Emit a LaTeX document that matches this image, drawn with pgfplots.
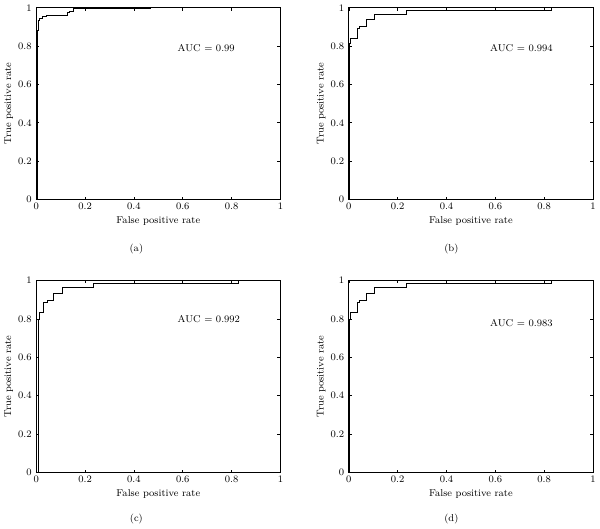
\documentclass[border=0pt]{standalone}
\usepackage{pgfplots}
\pgfplotsset{compat=1.18}

\pgfplotsset{
  rocstyle/.style={
    scale only axis,
    width=184.5pt, height=145pt,
    xmin=0, xmax=1, ymin=0, ymax=1,
    xtick={0,0.2,0.4,0.6,0.8,1},
    ytick={0,0.2,0.4,0.6,0.8,1},
    tick align=inside,
    major tick length=2.2pt,
    axis line style={line width=0.6pt},
    every tick/.style={line width=0.5pt, black},
    /pgf/number format/assume math mode=true,
    /pgf/number format/fixed,
    ticklabel style={font=\fontsize{7.5}{9}\selectfont},
    xticklabel style={yshift=1pt},
    label style={font=\fontsize{7.5}{9}\selectfont},
    xlabel={False positive rate},
    ylabel={True positive rate},
    xlabel style={yshift=2pt},
    ylabel style={yshift=-3pt},
    clip=false,
  },
  roc/.style={black, line width=0.75pt, line join=miter},
}

\begin{document}
\begin{tikzpicture}

% (a)
\begin{axis}[rocstyle, at={(0pt,206.25pt)}]
\addplot[roc] coordinates {
  (0.003,0) (0.003,0.883) (0.007,0.883) (0.007,0.935) (0.013,0.935)
  (0.013,0.943) (0.024,0.943) (0.024,0.952) (0.041,0.952) (0.041,0.962)
  (0.126,0.962) (0.126,0.973) (0.136,0.973) (0.136,0.981) (0.154,0.981)
  (0.154,0.994) (0.47,0.994)
};
\node[anchor=west, font=\fontsize{7.5}{9}\selectfont] at (rel axis cs:0.56,0.79) {AUC = 0.99};
\node[font=\fontsize{7.5}{9}\selectfont] at (rel axis cs:0.41,0) [yshift=-37.5pt] {(a)};
\end{axis}

% (b)
\begin{axis}[rocstyle, at={(236.25pt,206.25pt)}]
\addplot[roc] coordinates {
  (0.003,0) (0.003,0.814) (0.008,0.814) (0.008,0.84) (0.034,0.84)
  (0.034,0.892) (0.045,0.892) (0.045,0.9) (0.072,0.9) (0.072,0.938)
  (0.106,0.938) (0.106,0.966) (0.235,0.966) (0.235,0.986) (0.83,0.986)
  (0.83,1)
};
\node[anchor=west, font=\fontsize{7.5}{9}\selectfont] at (rel axis cs:0.56,0.79) {AUC = 0.994};
\node[font=\fontsize{7.5}{9}\selectfont] at (rel axis cs:0.42,0) [yshift=-37.5pt] {(b)};
\end{axis}

% (c)
\begin{axis}[rocstyle, at={(0pt,0pt)}]
\addplot[roc] coordinates {
  (0.008,0) (0.008,0.795) (0.014,0.795) (0.014,0.836) (0.031,0.836)
  (0.031,0.888) (0.045,0.888) (0.045,0.897) (0.072,0.897) (0.072,0.935)
  (0.106,0.935) (0.106,0.962) (0.235,0.962) (0.235,0.983) (0.83,0.983)
  (0.83,1)
};
\node[anchor=west, font=\fontsize{7.5}{9}\selectfont] at (rel axis cs:0.56,0.80) {AUC = 0.992};
\node[font=\fontsize{7.5}{9}\selectfont] at (rel axis cs:0.41,0) [yshift=-35.5pt] {(c)};
\end{axis}

% (d)
\begin{axis}[rocstyle, at={(236.25pt,0pt)}]
\addplot[roc] coordinates {
  (0.003,0) (0.003,0.795) (0.008,0.795) (0.008,0.836) (0.034,0.836)
  (0.034,0.888) (0.045,0.888) (0.045,0.897) (0.072,0.897) (0.072,0.935)
  (0.106,0.935) (0.106,0.962) (0.235,0.962) (0.235,0.983) (0.83,0.983)
  (0.83,1)
};
\node[anchor=west, font=\fontsize{7.5}{9}\selectfont] at (rel axis cs:0.56,0.78) {AUC = 0.983};
\node[font=\fontsize{7.5}{9}\selectfont] at (rel axis cs:0.42,0) [yshift=-35.5pt] {(d)};
\end{axis}

\end{tikzpicture}
\end{document}
